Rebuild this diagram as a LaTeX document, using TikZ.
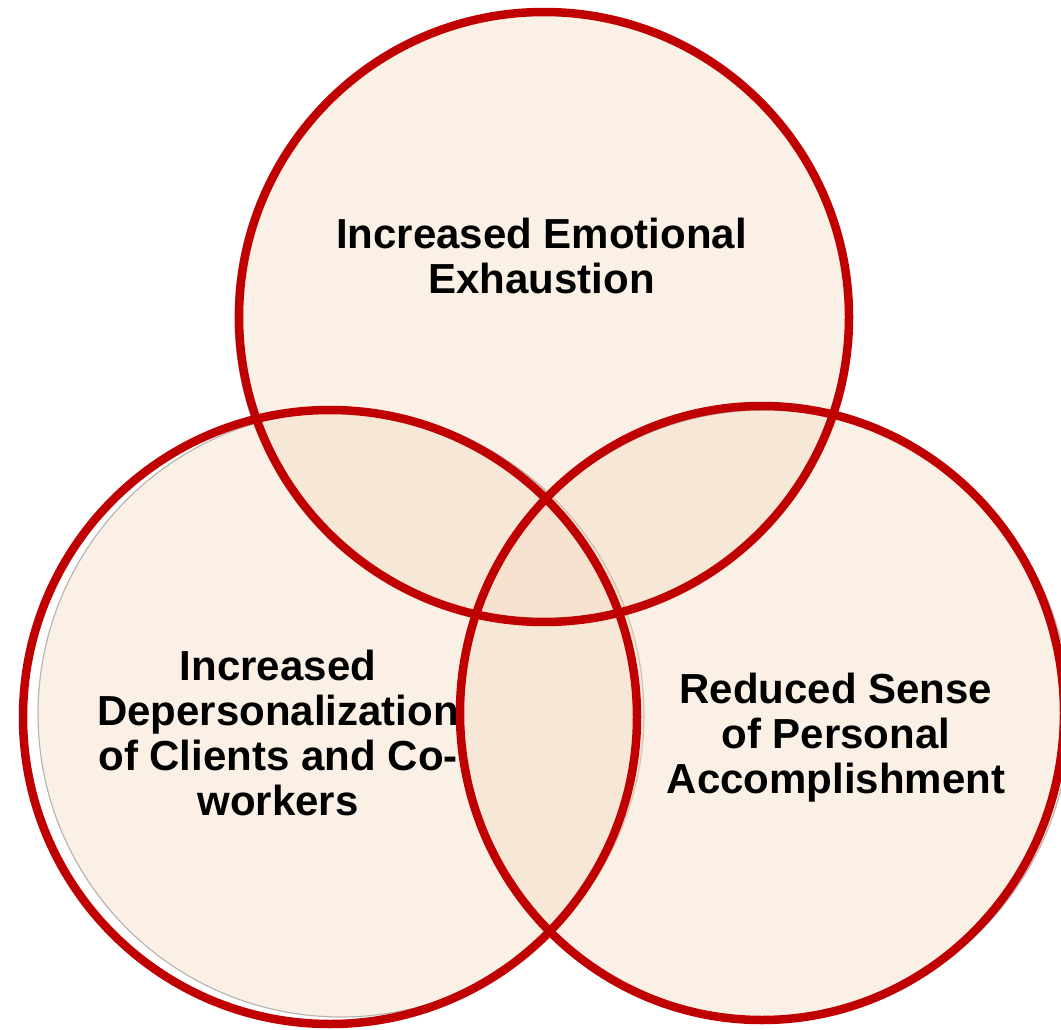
\documentclass[tikz,border=0pt]{standalone}
\usepackage{fontspec}
\setmainfont{Liberation Sans}
\definecolor{discfill}{RGB}{243,218,192}
\definecolor{ringred}{RGB}{192,0,0}
\begin{document}
\begin{tikzpicture}[x=1pt,y=-1pt,
  disc/.style={fill=discfill, fill opacity=0.4, draw=gray, draw opacity=0.55, line width=1.2pt},
  ring/.style={draw=ringred, line width=8.5pt},
  label/.style={font=\fontsize{42}{45}\selectfont\bfseries, align=center,
    anchor=base, inner sep=0pt, text=black}]
  \useasboundingbox (0,0) rectangle (1061,1030);
  \clip (0,0) rectangle (1061,1030);

  % translucent discs with a faint grey rim
  \path[disc] (541,318) circle[radius=306];
  \path[disc] (341,714) circle[radius=303];
  \path[disc] (765,715) circle[radius=305];

  % red outlines on top
  \draw[ring] (544,317) circle[radius=305];
  \draw[ring] (330,717) circle[radius=307];
  \draw[ring] (762,713) ellipse[x radius=302, y radius=307];

  % labels (base = baseline of the last line)
  \node[label] (exhaustion) at (541.5,293) {Increased Emotional\\Exhaustion};
  \node[label] (depers) at (278,815) {Increased\\Depersonalization\\of Clients and Co-\\workers};
  \node[label] (accomp) at (836,793) {Reduced Sense\\of Personal\\Accomplishment};
\end{tikzpicture}
\end{document}
